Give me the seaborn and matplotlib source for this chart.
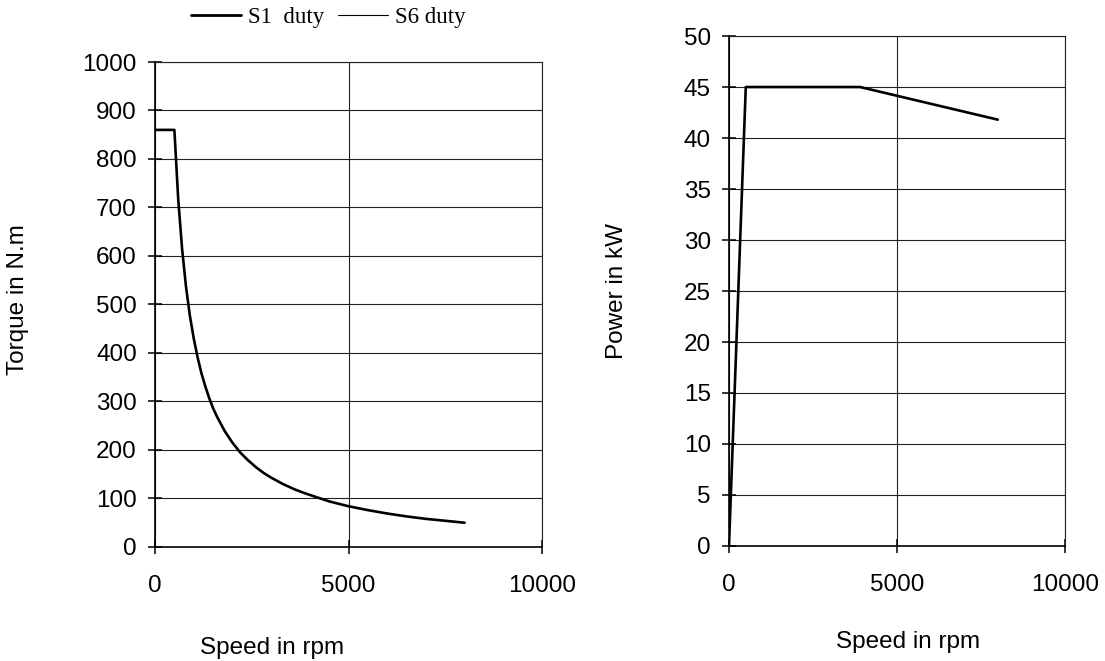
import matplotlib
matplotlib.use("Agg")
import matplotlib.pyplot as plt
from matplotlib.lines import Line2D
import seaborn as sns
import pandas as pd

# valeurs
speed_torque = [0, 500, 600, 700, 800, 900, 1000, 1100, 1200, 1300, 1400, 1500,
                1600, 1800, 2000, 2200, 2400, 2600, 2800, 3000, 3300, 3600,
                3900, 4200, 4500, 5000, 5500, 6000, 6500, 7000, 7500, 8000]
torque = [860, 860, 716, 614, 537, 477, 430, 391, 358, 331, 307, 286,
          269, 239, 215, 195, 179, 165, 153, 143, 130, 119,
          110, 102, 94, 84, 76, 69, 63, 58, 54, 50]

speed_power = [0, 500, 3900, 8000]
power = [0, 45, 45, 41.8]

x_ticks = [0, 5000, 10000]
torque_ticks = list(range(0, 1001, 100))
power_ticks = list(range(0, 51, 5))

legend_labels = ["S1  duty", "S6 duty"]

sns.set_theme(style="white")
plt.rcParams["font.family"] = ["Liberation Sans", "DejaVu Sans"]
plt.rcParams["text.color"] = "black"
plt.rcParams["axes.labelcolor"] = "black"
plt.rcParams["xtick.color"] = "black"
plt.rcParams["ytick.color"] = "black"

df_t = pd.DataFrame({"speed": speed_torque, "torque": torque})
df_p = pd.DataFrame({"speed": speed_power, "power": power})

fig = plt.figure(figsize=(11.05, 6.61), dpi=100)
ax1 = fig.add_axes([0.1403, 0.1725, 0.3502, 0.7337])
ax2 = fig.add_axes([0.6597, 0.174, 0.3041, 0.7715])

sns.lineplot(data=df_t, x="speed", y="torque", ax=ax1, color="black",
             linewidth=1.9, sort=False)
sns.lineplot(data=df_p, x="speed", y="power", ax=ax2, color="black",
             linewidth=1.9, sort=False)


def style_axis(ax, yticks, ymax):
    ax.set_xlim(0, 10000)
    ax.set_ylim(0, ymax)
    ax.set_xticks(x_ticks)
    ax.set_yticks(yticks)
    ax.grid(True, color="#222222", linewidth=0.8)
    ax.set_axisbelow(True)
    for side in ["top", "right"]:
        ax.spines[side].set_color("#222222")
        ax.spines[side].set_linewidth(0.8)
    for side in ["left", "bottom"]:
        ax.spines[side].set_color("black")
        ax.spines[side].set_linewidth(1.2)
    ax.tick_params(axis="x", direction="inout", length=10, width=1.1,
                   colors="black", labelsize=17.5, pad=15, bottom=True)
    ax.tick_params(axis="y", direction="inout", length=10, width=1.1,
                   colors="black", labelsize=17.5, pad=8, left=True)


style_axis(ax1, torque_ticks, 1000)
style_axis(ax2, power_ticks, 50)

ax1.set_xlabel("Speed in rpm", fontsize=17.5)
ax1.set_ylabel("Torque in N.m", fontsize=17.5)
ax1.xaxis.set_label_coords(0.302, -0.185)
ax1.yaxis.set_label_coords(-0.325, 0.51)

ax2.set_xlabel("Speed in rpm", fontsize=17.5)
ax2.set_ylabel("Power in kW", fontsize=17.5)
ax2.xaxis.set_label_coords(0.533, -0.166)
ax2.yaxis.set_label_coords(-0.30, 0.5)

handles = [Line2D([], [], color="black", linewidth=2.0),
           Line2D([], [], color="black", linewidth=0.8)]
fig.legend(handles, legend_labels, loc="center", bbox_to_anchor=(0.297, 0.973),
           ncol=2, frameon=False, handlelength=2.2, handletextpad=0.3,
           columnspacing=0.6, prop={"family": "Liberation Serif", "size": 16.5})

fig.savefig("out.png", dpi=100)
